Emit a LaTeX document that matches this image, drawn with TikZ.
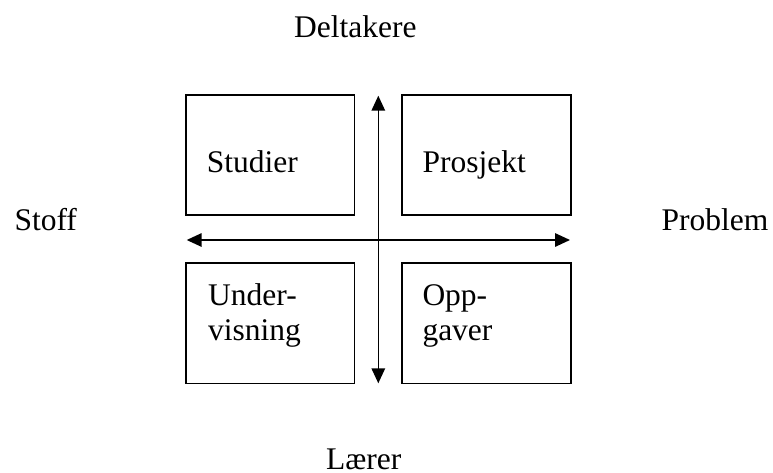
\documentclass[tikz,border=0pt]{standalone}
\usepackage{fontspec}
\setmainfont{Liberation Serif}
\usetikzlibrary{arrows.meta}

\begin{document}
\begin{tikzpicture}[x=1pt, y=-1pt,
  every node/.style={font=\fontsize{31.5}{35}\selectfont, inner sep=0pt},
  quad/.style={draw, line width=1.6pt, minimum width=168.6pt, minimum height=120pt},
  caption/.style={anchor=base west, align=left},
  axis/.style={line width=1.6pt, {Triangle[length=15pt,width=13.5pt]}-{Triangle[length=15pt,width=13.5pt]}}]
  \useasboundingbox (0,0) rectangle (773,472);

  % four quadrant boxes
  \node[quad] (studier)  at (270.0,155.0) {};
  \node[quad] (prosjekt) at (486.5,155.0) {};
  \node[quad, minimum height=120.6pt] (undervisning) at (270.0,323.0) {};
  \node[quad, minimum height=120.6pt] (oppgaver)     at (486.5,323.0) {};

  % box captions (two-line captions sit on the baseline of their last line)
  \node[caption] (tstudier)  at (206.7,172.7) {Studier};
  \node[caption] (tprosjekt) at (422.3,172.7) {Prosjekt};
  \node[caption] (tunder)    at (208.0,340.0) {Under-\\visning};
  \node[caption] (topp)      at (422.3,340.0) {Opp-\\gaver};

  % axis ends
  \coordinate (up)    at (378.3,95.7);
  \coordinate (down)  at (378.3,383.3);
  \coordinate (left)  at (186.7,240.0);
  \coordinate (right) at (570.0,240.0);

  \draw[axis] (up) -- (down);
  \draw[axis] (left) -- (right);

  % axis labels
  \node[caption] (deltakere) at (294.0,37.7)  {Deltakere};
  \node[caption] (laerer)    at (326.0,469.5) {Lærer};
  \node[caption] (stoff)     at (14.3,230.7)  {Stoff};
  \node[caption] (problem)   at (661.3,230.7) {Problem};
\end{tikzpicture}
\end{document}
